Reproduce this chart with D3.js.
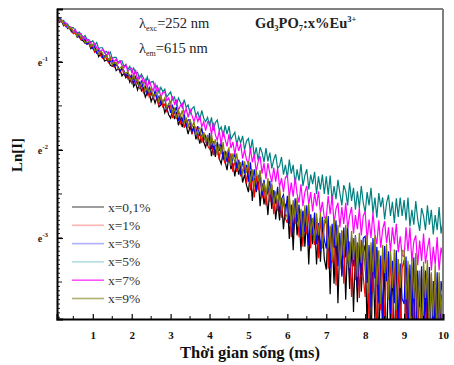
<!DOCTYPE html>
<html><head><meta charset="utf-8">
<script src="https://cdn.jsdelivr.net/npm/d3@7"></script>
<style>body{margin:0;background:#fff}svg{display:block}</style>
</head><body>
<svg id="c" width="454" height="365"></svg>
<script>
// time axis: 0.00 .. 10.00 ms in 0.05 ms steps
const timeStart = 0, timeStep = 0.05;
const seriesNames = ["x=0,1%", "x=1%", "x=3%", "x=5%", "x=7%", "x=9%"];
const seriesColors = ["#000000", "#ff0000", "#0000ff", "#008080", "#ff00ff", "#808000"];
const legendColors = ["#858585", "#ffb0b0", "#b0b0ff", "#b0dede", "#ff55ff", "#b0b070"];
const xTicks = [1,2,3,4,5,6,7,8,9,10];
const yTicks = [-1,-2,-3];

// ln(I) values
const lnI_01 = [-0.48,-0.47,-0.53,-0.53,-0.54,-0.59,-0.57,-0.61,-0.60,-0.66,-0.66,-0.67,-0.72,-0.70,-0.75,-0.76,-0.79,-0.78,-0.79,-0.85,
-0.83,-0.89,-0.86,-0.94,-0.91,-0.92,-0.99,-0.98,-0.97,-1.04,-1.05,-1.02,-1.10,-1.08,-1.09,-1.16,-1.13,-1.18,-1.15,-1.23,
-1.18,-1.28,-1.24,-1.32,-1.24,-1.33,-1.30,-1.40,-1.35,-1.34,-1.45,-1.39,-1.47,-1.40,-1.51,-1.49,-1.47,-1.58,-1.52,-1.60,
-1.64,-1.55,-1.65,-1.57,-1.72,-1.65,-1.74,-1.65,-1.72,-1.82,-1.73,-1.82,-1.73,-1.88,-1.82,-1.93,-1.83,-1.91,-1.97,-1.87,
-1.87,-2.07,-1.95,-2.08,-1.93,-2.10,-2.16,-2.02,-2.13,-2.23,-2.06,-2.22,-2.15,-2.30,-2.14,-2.28,-2.16,-2.37,-2.28,-2.40,
-2.48,-2.24,-2.58,-2.32,-2.48,-2.30,-2.64,-2.38,-2.62,-2.47,-2.74,-2.43,-2.67,-2.46,-2.79,-2.58,-2.80,-2.56,-2.90,-2.63,
-2.58,-3.01,-2.65,-3.14,-2.62,-2.97,-2.74,-3.15,-2.70,-3.10,-2.76,-3.30,-2.78,-3.07,-2.78,-3.30,-2.91,-3.27,-2.87,-3.24,
-3.36,-2.87,-3.64,-2.95,-3.52,-2.91,-3.74,-3.04,-3.42,-2.99,-3.70,-3.03,-3.58,-3.03,-3.84,-3.13,-3.73,-3.08,-3.61,-3.17,
-3.08,-4.05,-3.19,-4.28,-3.15,-3.96,-3.14,-4.28,-3.30,-4.11,-3.25,-4.39,-3.23,-4.01,-3.33,-4.34,-3.30,-4.27,-3.42,-4.47,
-4.41,-3.34,-4.59,-3.43,-4.26,-3.38,-4.69,-3.52,-4.47,-3.47,-4.64,-3.52,-4.42,-3.49,-4.80,-3.61,-4.67,-3.57,-4.80,-3.64,
-3.88];
const lnI_1 = [-0.46,-0.50,-0.49,-0.55,-0.53,-0.56,-0.60,-0.58,-0.63,-0.63,-0.68,-0.67,-0.67,-0.72,-0.75,-0.73,-0.77,-0.80,-0.79,-0.83,
-0.82,-0.89,-0.87,-0.86,-0.93,-0.96,-0.93,-0.96,-1.01,-0.97,-1.03,-1.06,-1.03,-1.06,-1.12,-1.07,-1.14,-1.14,-1.19,-1.15,
-1.24,-1.18,-1.25,-1.19,-1.30,-1.27,-1.35,-1.28,-1.31,-1.40,-1.34,-1.42,-1.36,-1.43,-1.49,-1.42,-1.51,-1.48,-1.56,-1.50,
-1.50,-1.64,-1.56,-1.65,-1.55,-1.70,-1.65,-1.75,-1.65,-1.74,-1.68,-1.82,-1.74,-1.74,-1.87,-1.81,-1.92,-1.80,-1.91,-1.95,
-1.99,-1.86,-2.06,-1.95,-1.94,-2.11,-1.93,-2.09,-2.15,-2.02,-2.13,-2.04,-2.25,-2.12,-2.25,-2.11,-2.30,-2.23,-2.19,-2.38,
-2.18,-2.46,-2.29,-2.54,-2.29,-2.46,-2.27,-2.55,-2.42,-2.63,-2.38,-2.59,-2.40,-2.73,-2.51,-2.69,-2.46,-2.77,-2.56,-2.78,
-2.83,-2.53,-2.99,-2.61,-2.84,-2.58,-2.99,-2.73,-3.10,-2.67,-2.96,-2.69,-3.12,-2.78,-3.08,-2.77,-3.23,-2.77,-3.04,-2.85,
-2.79,-3.35,-2.88,-3.28,-2.83,-3.54,-2.97,-3.29,-2.92,-3.52,-2.92,-3.29,-3.04,-3.67,-3.00,-3.48,-3.05,-3.68,-3.02,-3.44,
-3.67,-3.04,-4.00,-3.15,-3.62,-3.08,-4.15,-3.24,-3.82,-3.17,-4.05,-3.21,-3.68,-3.17,-4.20,-3.32,-3.98,-3.24,-4.10,-3.34,
-3.25,-4.14,-3.35,-4.41,-3.33,-4.04,-3.30,-4.51,-3.44,-4.33,-3.39,-4.16,-3.45,-4.48,-3.41,-4.25,-3.56,-4.61,-3.50,-4.15,
-3.48];
const lnI_3 = [-0.48,-0.48,-0.53,-0.50,-0.54,-0.57,-0.56,-0.62,-0.60,-0.63,-0.67,-0.66,-0.67,-0.72,-0.72,-0.75,-0.74,-0.80,-0.78,-0.82,
-0.85,-0.82,-0.90,-0.87,-0.88,-0.95,-0.94,-0.92,-0.99,-1.00,-0.98,-1.05,-1.02,-1.06,-1.11,-1.07,-1.10,-1.16,-1.12,-1.18,
-1.15,-1.25,-1.17,-1.24,-1.29,-1.21,-1.31,-1.28,-1.37,-1.29,-1.35,-1.41,-1.33,-1.42,-1.39,-1.48,-1.44,-1.43,-1.53,-1.48,
-1.58,-1.50,-1.57,-1.51,-1.67,-1.60,-1.67,-1.59,-1.74,-1.66,-1.66,-1.79,-1.74,-1.84,-1.73,-1.84,-1.75,-1.89,-1.84,-1.95,
-1.81,-1.99,-1.90,-2.05,-1.91,-2.01,-1.91,-2.11,-2.01,-2.14,-2.01,-2.19,-2.10,-2.04,-2.21,-2.12,-2.28,-2.12,-2.27,-2.17,
-2.36,-2.14,-2.35,-2.22,-2.47,-2.31,-2.26,-2.52,-2.34,-2.52,-2.48,-2.35,-2.61,-2.46,-2.61,-2.42,-2.71,-2.56,-2.51,-2.75,
-2.52,-2.84,-2.62,-2.95,-2.55,-2.82,-2.62,-2.97,-2.69,-2.93,-2.63,-3.09,-2.73,-2.96,-2.71,-3.07,-2.83,-3.15,-2.76,-3.02,
-3.12,-2.75,-3.35,-2.84,-3.11,-2.80,-3.32,-2.94,-3.44,-2.88,-3.22,-2.86,-3.44,-2.99,-3.32,-2.97,-3.57,-3.06,-3.42,-3.00,
-2.98,-3.51,-3.08,-3.79,-3.00,-3.46,-3.10,-3.74,-3.20,-3.91,-3.09,-3.49,-3.15,-3.86,-3.26,-3.74,-3.14,-3.99,-3.29,-3.69,
-3.75,-3.21,-4.17,-3.30,-3.89,-3.22,-4.31,-3.37,-3.78,-3.32,-4.21,-3.37,-3.93,-3.33,-4.35,-3.49,-4.07,-3.39,-4.24,-3.49,
-3.66];
const lnI_5 = [-0.46,-0.51,-0.49,-0.52,-0.55,-0.53,-0.57,-0.57,-0.61,-0.61,-0.61,-0.65,-0.68,-0.66,-0.69,-0.72,-0.70,-0.74,-0.75,-0.78,
-0.76,-0.81,-0.78,-0.85,-0.84,-0.84,-0.90,-0.88,-0.91,-0.89,-0.96,-0.95,-0.95,-1.01,-0.99,-0.99,-1.05,-1.03,-1.09,-1.05,
-1.12,-1.07,-1.13,-1.12,-1.19,-1.14,-1.18,-1.25,-1.17,-1.25,-1.23,-1.22,-1.30,-1.27,-1.35,-1.29,-1.34,-1.31,-1.40,-1.37,
-1.34,-1.43,-1.40,-1.49,-1.41,-1.46,-1.52,-1.43,-1.52,-1.49,-1.59,-1.53,-1.51,-1.61,-1.57,-1.66,-1.55,-1.64,-1.68,-1.63,
-1.73,-1.63,-1.78,-1.69,-1.66,-1.78,-1.74,-1.85,-1.72,-1.82,-1.73,-1.88,-1.84,-1.80,-1.94,-1.85,-1.92,-1.84,-2.00,-1.90,
-1.87,-2.01,-1.88,-2.08,-1.97,-2.12,-1.97,-2.03,-2.14,-1.98,-2.13,-2.03,-2.21,-2.11,-2.05,-2.21,-2.18,-2.08,-2.28,-2.17,
-2.32,-2.11,-2.27,-2.17,-2.39,-2.22,-2.35,-2.16,-2.41,-2.29,-2.22,-2.45,-2.28,-2.39,-2.25,-2.50,-2.30,-2.45,-2.28,-2.50,
-2.30,-2.51,-2.29,-2.58,-2.41,-2.56,-2.34,-2.49,-2.63,-2.40,-2.47,-2.63,-2.37,-2.58,-2.43,-2.68,-2.47,-2.66,-2.41,-2.60,
-2.71,-2.48,-2.63,-2.43,-2.72,-2.54,-2.77,-2.49,-2.65,-2.54,-2.79,-2.60,-2.51,-2.75,-2.59,-2.83,-2.55,-2.76,-2.54,-2.75,
-2.57,-2.80,-2.54,-2.87,-2.68,-2.85,-2.58,-2.79,-2.92,-2.66,-2.75,-2.91,-2.63,-2.85,-2.68,-2.96,-2.74,-2.91,-2.65,-2.95,
-2.80];
const lnI_7 = [-0.48,-0.47,-0.50,-0.54,-0.53,-0.56,-0.55,-0.61,-0.60,-0.61,-0.66,-0.63,-0.68,-0.68,-0.68,-0.74,-0.72,-0.76,-0.75,-0.79,
-0.82,-0.79,-0.84,-0.85,-0.89,-0.86,-0.88,-0.94,-0.89,-0.95,-0.96,-1.00,-0.97,-1.02,-0.99,-1.04,-1.07,-1.03,-1.11,-1.08,
-1.07,-1.16,-1.09,-1.21,-1.16,-1.16,-1.25,-1.20,-1.29,-1.21,-1.28,-1.33,-1.25,-1.34,-1.30,-1.40,-1.35,-1.34,-1.44,-1.41,
-1.48,-1.39,-1.48,-1.44,-1.55,-1.50,-1.47,-1.59,-1.53,-1.63,-1.54,-1.61,-1.68,-1.60,-1.68,-1.61,-1.74,-1.68,-1.78,-1.68,
-1.68,-1.83,-1.69,-1.83,-1.89,-1.78,-1.94,-1.78,-1.88,-1.96,-1.82,-1.98,-1.91,-2.05,-1.91,-2.01,-1.93,-2.10,-2.00,-2.11,
-2.16,-1.98,-2.14,-2.05,-2.25,-2.13,-2.07,-2.27,-2.15,-2.33,-2.15,-2.27,-2.37,-2.20,-2.36,-2.21,-2.42,-2.32,-2.48,-2.31,
-2.29,-2.54,-2.37,-2.53,-2.31,-2.50,-2.60,-2.39,-2.64,-2.48,-2.41,-2.62,-2.48,-2.70,-2.49,-2.64,-2.47,-2.72,-2.59,-2.77,
-2.77,-2.52,-2.73,-2.52,-2.84,-2.67,-2.60,-2.88,-2.65,-2.84,-2.60,-2.89,-2.75,-2.65,-2.95,-2.74,-2.90,-2.66,-2.97,-2.75,
-2.70,-3.03,-2.79,-3.00,-2.71,-2.96,-3.07,-2.80,-3.11,-2.90,-2.81,-3.06,-2.88,-3.16,-2.88,-3.07,-2.84,-3.16,-2.98,-3.20,
-3.21,-2.88,-3.15,-2.88,-3.27,-3.04,-2.97,-3.31,-3.03,-3.26,-2.95,-3.29,-3.12,-3.00,-3.37,-3.10,-3.30,-2.99,-3.37,-3.11,
-3.22];
const lnI_9 = [-0.47,-0.51,-0.50,-0.53,-0.52,-0.58,-0.58,-0.59,-0.63,-0.61,-0.66,-0.67,-0.71,-0.68,-0.73,-0.73,-0.78,-0.78,-0.77,-0.83,
-0.80,-0.87,-0.86,-0.91,-0.88,-0.90,-0.96,-0.93,-0.98,-0.95,-1.03,-1.01,-1.01,-1.08,-1.07,-1.05,-1.12,-1.13,-1.11,-1.18,
-1.21,-1.14,-1.22,-1.19,-1.29,-1.24,-1.23,-1.34,-1.29,-1.35,-1.29,-1.40,-1.37,-1.35,-1.46,-1.39,-1.46,-1.41,-1.52,-1.48,
-1.45,-1.58,-1.53,-1.64,-1.55,-1.62,-1.55,-1.70,-1.63,-1.75,-1.65,-1.74,-1.68,-1.83,-1.77,-1.75,-1.87,-1.80,-1.92,-1.83,
-1.97,-1.82,-1.95,-1.88,-2.06,-1.93,-2.05,-1.91,-2.12,-2.03,-1.98,-2.18,-2.04,-2.15,-2.04,-2.22,-2.14,-2.28,-2.13,-2.26,
-2.13,-2.37,-2.22,-2.42,-2.23,-2.36,-2.23,-2.47,-2.37,-2.54,-2.32,-2.51,-2.38,-2.63,-2.47,-2.62,-2.42,-2.69,-2.53,-2.72,
-2.77,-2.49,-2.88,-2.57,-2.77,-2.54,-2.88,-2.67,-2.99,-2.63,-2.87,-2.61,-2.95,-2.77,-3.03,-2.72,-2.97,-2.71,-3.12,-2.81,
-2.75,-3.12,-2.86,-3.25,-2.78,-3.09,-2.85,-3.35,-2.91,-3.20,-2.85,-3.13,-3.34,-2.92,-3.25,-2.98,-3.44,-2.94,-3.28,-3.04,
-3.38,-2.97,-3.63,-3.05,-3.39,-2.97,-3.53,-3.14,-3.75,-3.08,-3.40,-3.07,-3.70,-3.15,-3.57,-3.13,-3.82,-3.24,-3.57,-3.14,
-3.15,-3.70,-3.26,-4.02,-3.23,-3.69,-3.17,-3.91,-3.37,-4.18,-3.27,-3.68,-3.25,-4.07,-3.39,-3.89,-3.30,-4.21,-3.39,-3.86,
-3.45];
const seriesValues = [lnI_01, lnI_1, lnI_3, lnI_5, lnI_7, lnI_9];

const svg = d3.select("#c");
const L = 57, R = 443, T = 9, B = 319;
const x = d3.scaleLinear().domain([0.08, 10]).range([L, R]);
const y = d3.scaleLinear().domain([-3.92, -0.40]).range([B, T]);

svg.append("defs").append("clipPath").attr("id","clip")
  .append("rect").attr("x",L).attr("y",T).attr("width",R-L).attr("height",B-T);

const plot = svg.append("g").attr("clip-path","url(#clip)");
const line = d3.line().x(d => x(d[0])).y(d => y(d[1]));
seriesValues.forEach((vals, i) => {
  const pts = vals.map((v, k) => [timeStart + k * timeStep, v]);
  plot.append("path").datum(pts).attr("d", line)
    .attr("fill","none").attr("stroke", seriesColors[i]).attr("stroke-width", 1.2)
    .attr("stroke-linejoin","miter");
});

// frame: top/right gray
svg.append("line").attr("x1",L).attr("x2",R).attr("y1",T).attr("y2",T).attr("stroke","#808080").attr("stroke-width",2);
svg.append("line").attr("x1",R).attr("x2",R).attr("y1",T).attr("y2",B).attr("stroke","#808080").attr("stroke-width",2);

// bottom axis
const xMinor = d3.range(0.5, 10.01, 0.5).filter(v => Math.abs(v - Math.round(v)) > 0.01);
const xAxis = svg.append("g").attr("transform",`translate(0,${B})`)
  .call(d3.axisBottom(x).tickValues(xTicks).tickSize(-5).tickPadding(10).tickFormat(d3.format("d")));
xAxis.select(".domain").attr("stroke","#000").attr("stroke-width",2);
xAxis.selectAll(".tick line").attr("stroke","#000").attr("stroke-width",1.2);
xAxis.selectAll(".tick text").attr("font-family","'Liberation Serif', serif").attr("font-weight","bold").attr("font-size",11).attr("fill","#111").attr("dy","0.9em");
xAxis.selectAll(".minor").data(xMinor).enter().append("line")
  .attr("x1",d=>x(d)).attr("x2",d=>x(d)).attr("y1",0).attr("y2",-3).attr("stroke","#000");

// left axis
const yMinor = d3.range(-3.9, -0.4, 0.05);
const yAxis = svg.append("g").attr("transform",`translate(${L},0)`)
  .call(d3.axisLeft(y).tickValues(yTicks).tickSize(-6).tickFormat(""));
yAxis.select(".domain").attr("stroke","#000").attr("stroke-width",2);
yAxis.selectAll(".tick line").attr("stroke","#000").attr("stroke-width",1.2);
yAxis.selectAll(".minor").data(yMinor).enter().append("line")
  .attr("x1",0).attr("x2",d => Math.abs(d*2 - Math.round(d*2)) < 0.01 ? 5 : 3)
  .attr("y1",d=>y(d)).attr("y2",d=>y(d)).attr("stroke","#000").attr("stroke-width",0.9);
yAxis.selectAll(".tick").each(function(d){
  const t = d3.select(this).append("text").attr("x",-9).attr("y",4)
    .attr("text-anchor","end").attr("font-family","'Liberation Serif', serif")
    .attr("font-weight","bold").attr("font-size",10).attr("fill","#222");
  t.append("tspan").text("e");
  t.append("tspan").attr("dy",-5).attr("font-size",7).text(String(d));
});

// axis titles
svg.append("text").attr("x",250).attr("y",358).attr("text-anchor","middle")
  .attr("font-family","'Liberation Serif', serif").attr("font-weight","bold").attr("font-size",16.5)
  .attr("fill","#111").text("Thời gian sống (ms)");
svg.append("text").attr("transform","translate(22,155) rotate(-90)").attr("text-anchor","middle")
  .attr("font-family","'Liberation Serif', serif").attr("font-weight","bold").attr("font-size",15)
  .attr("fill","#111").text("Ln[I]");

// annotations
const ann = svg.append("g").attr("font-family","'Liberation Serif', serif").attr("fill","#222");
const a1 = ann.append("text").attr("x",139).attr("y",28).attr("font-size",14.5);
a1.append("tspan").text("λ"); a1.append("tspan").attr("dy",3).attr("font-size",8).text("exc");
a1.append("tspan").attr("dy",-3).text("=252 nm");
const a2 = ann.append("text").attr("x",139).attr("y",53).attr("font-size",14.5);
a2.append("tspan").text("λ"); a2.append("tspan").attr("dy",3).attr("font-size",8).text("em");
a2.append("tspan").attr("dy",-3).text("=615 nm");
const a3 = ann.append("text").attr("x",255).attr("y",28).attr("font-size",14.5).attr("font-weight","bold");
a3.append("tspan").text("Gd"); a3.append("tspan").attr("dy",3).attr("font-size",8.5).text("3");
a3.append("tspan").attr("dy",-3).text("PO"); a3.append("tspan").attr("dy",3).attr("font-size",8.5).text("7");
a3.append("tspan").attr("dy",-3).text(":x%Eu"); a3.append("tspan").attr("dy",-6).attr("font-size",8.5).text("3+");

// legend
const leg = svg.append("g");
seriesNames.forEach((n, i) => {
  const yy = 207 + i * 18.3;
  leg.append("line").attr("x1",72).attr("x2",104).attr("y1",yy).attr("y2",yy)
    .attr("stroke", legendColors[i]).attr("stroke-width",1.6);
  leg.append("text").attr("x",108).attr("y",yy+4.5).attr("font-family","'Liberation Serif', serif")
    .attr("font-size",13.5).attr("fill","#333").text(n);
});
</script>
</body></html>
